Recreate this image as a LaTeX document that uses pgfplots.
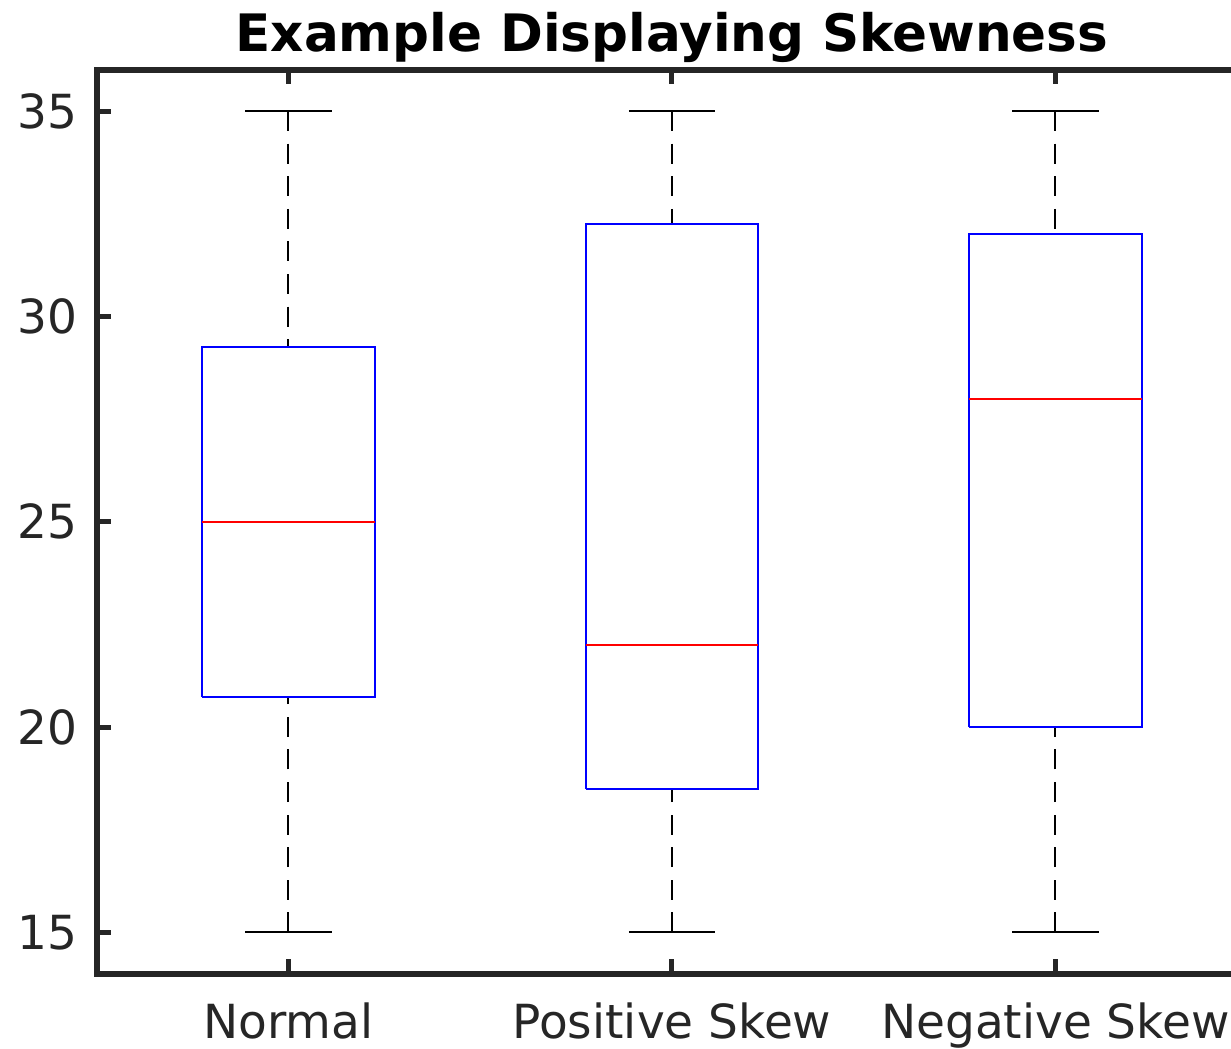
\documentclass[border=0pt]{standalone}
\usepackage{pgfplots}
\pgfplotsset{compat=1.18}
\usepackage{fontspec}
\setmainfont{DejaVu Sans}
\definecolor{axgray}{HTML}{262626}
\pgfplotsset{
  whisk/.style={black, line width=1pt, dash pattern=on 10pt off 6.3pt, mark=none},
  cap/.style={black, line width=1pt, mark=none},
  bx/.style={blue, line width=1pt, mark=none},
  med/.style={red, line width=1pt, mark=none},
}
\begin{document}
\begin{tikzpicture}
\begin{axis}[
  name=ax,
  at={(0,0)}, anchor=south west,
  scale only axis,
  width=575.25pt, height=451.75pt,
  xmin=0.5, xmax=3.5, ymin=14, ymax=36,
  xtick={1,2,3},
  xticklabels={Normal, Positive Skew, Negative Skew},
  ytick={15,20,25,30,35},
  tick align=inside,
  xtick pos=both, ytick pos=both,
  major tick length=7.25pt,
  tick style={axgray, line width=2.5pt},
  axis line style={axgray, line width=3pt},
  /pgf/number format/assume math mode=true,
  tick label style={font=\fontsize{23.5}{28}\selectfont, text=axgray, inner sep=0pt},
  xticklabel style={anchor=base, yshift=-32.5pt},
  yticklabel style={anchor=east, xshift=-9.5pt},
  title={Example Displaying Skewness},
  title style={font=\bfseries\fontsize{25.8}{30}\selectfont, at={(0.5,1)}, anchor=base, yshift=3pt, inner sep=0pt},
]
% Normal: whiskers 15/35, quartiles 20.73/29.25, median 25
\addplot[whisk] coordinates {(1,35) (1,29.25)};
\addplot[whisk] coordinates {(1,15) (1,20.73)};
\addplot[cap] coordinates {(0.8875,35) (1.1125,35)};
\addplot[cap] coordinates {(0.8875,15) (1.1125,15)};
\addplot[bx] coordinates {(0.775,20.73) (1.225,20.73) (1.225,29.25) (0.775,29.25) (0.775,20.73)};
\addplot[med] coordinates {(0.775,25) (1.225,25)};
% Positive skew: whiskers 15/35, quartiles 18.49/32.25, median 22
\addplot[whisk] coordinates {(2,35) (2,32.25)};
\addplot[whisk] coordinates {(2,15) (2,18.49)};
\addplot[cap] coordinates {(1.8875,35) (2.1125,35)};
\addplot[cap] coordinates {(1.8875,15) (2.1125,15)};
\addplot[bx] coordinates {(1.775,18.49) (2.225,18.49) (2.225,32.25) (1.775,32.25) (1.775,18.49)};
\addplot[med] coordinates {(1.775,22) (2.225,22)};
% Negative skew: whiskers 15/35, quartiles 20/32, median 28
\addplot[whisk] coordinates {(3,35) (3,32)};
\addplot[whisk] coordinates {(3,15) (3,20)};
\addplot[cap] coordinates {(2.8875,35) (3.1125,35)};
\addplot[cap] coordinates {(2.8875,15) (3.1125,15)};
\addplot[bx] coordinates {(2.775,20) (3.225,20) (3.225,32) (2.775,32) (2.775,20)};
\addplot[med] coordinates {(2.775,28) (3.225,28)};
\end{axis}
\pgfresetboundingbox
\path[use as bounding box] ([shift={(-48.35pt,-37.75pt)}]ax.south west) rectangle ([shift={(567.15pt,486.75pt)}]ax.south west);
\end{tikzpicture}
\end{document}
